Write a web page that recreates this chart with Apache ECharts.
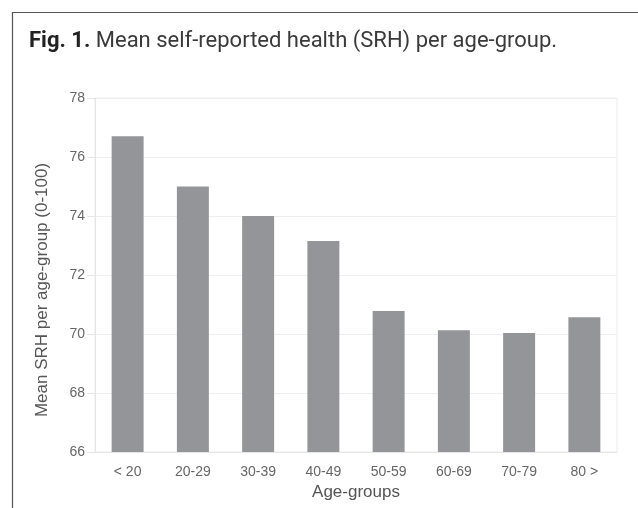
<!DOCTYPE html>
<html>
<head>
<meta charset="utf-8">
<script src="https://cdn.jsdelivr.net/npm/echarts@6/dist/echarts.min.js"></script>
<style>
html,body{margin:0;padding:0;background:#fff;}
#c{width:638px;height:508px;}
</style>
</head>
<body>
<div id="c"></div>
<script>
const categories = ['< 20', '20-29', '30-39', '40-49', '50-59', '60-69', '70-79', '80 >'];
const meanSRH = [76.7, 75.0, 74.0, 73.15, 70.78, 70.13, 70.03, 70.57];
const yTicks = { min: 66, max: 78, interval: 2 };

const chart = echarts.init(document.getElementById('c'), null, { renderer: 'canvas' });
chart.setOption({
  backgroundColor: '#ffffff',
  animation: false,
  title: {
    text: '{b|Fig. 1.} Mean self-reported health (SRH) per age-group.',
    left: 24, top: 25,
    textStyle: {
      fontFamily: 'Roboto', fontSize: 22, fontWeight: 'normal', color: '#3a3a3a',
      rich: { b: { fontFamily: 'Roboto', fontSize: 22, fontWeight: 'bold', color: '#222' } }
    }
  },
  graphic: [
    { type: 'line', shape: { x1: 12, y1: 12.5, x2: 638, y2: 12.5 }, style: { stroke: '#555', lineWidth: 1.2 } },
    { type: 'line', shape: { x1: 12.5, y1: 12, x2: 12.5, y2: 508 }, style: { stroke: '#555', lineWidth: 1.2 } }
  ],
  grid: { left: 95, right: 21, top: 98, bottom: 56, show: true, borderColor: '#ececec', borderWidth: 1 },
  xAxis: {
    type: 'category',
    data: categories,
    name: 'Age-groups',
    nameLocation: 'middle',
    nameGap: 32,
    nameTextStyle: { fontFamily: 'Liberation Sans', fontSize: 17, color: '#555' },
    axisLine: { lineStyle: { color: '#e6e6e6' } },
    axisTick: { show: false },
    axisLabel: { fontFamily: 'Liberation Sans', fontSize: 14, color: '#666', margin: 13 }
  },
  yAxis: {
    type: 'value',
    min: yTicks.min, max: yTicks.max, interval: yTicks.interval,
    name: 'Mean SRH per age-group (0-100)',
    nameLocation: 'middle',
    nameGap: 44,
    nameTextStyle: { fontFamily: 'Liberation Sans', fontSize: 17, color: '#555', padding: [0, 30, 0, 0] },
    axisLine: { show: true, lineStyle: { color: '#e6e6e6' } },
    axisTick: { show: true, length: 8, lineStyle: { color: '#e6e6e6' } },
    axisLabel: { fontFamily: 'Liberation Sans', fontSize: 14, color: '#666', margin: 10 },
    splitLine: { lineStyle: { color: '#efefef' } }
  },
  series: [{
    type: 'bar',
    data: meanSRH,
    barCategoryGap: '51%',
    itemStyle: { color: '#939598' }
  }]
});
</script>
</body>
</html>
